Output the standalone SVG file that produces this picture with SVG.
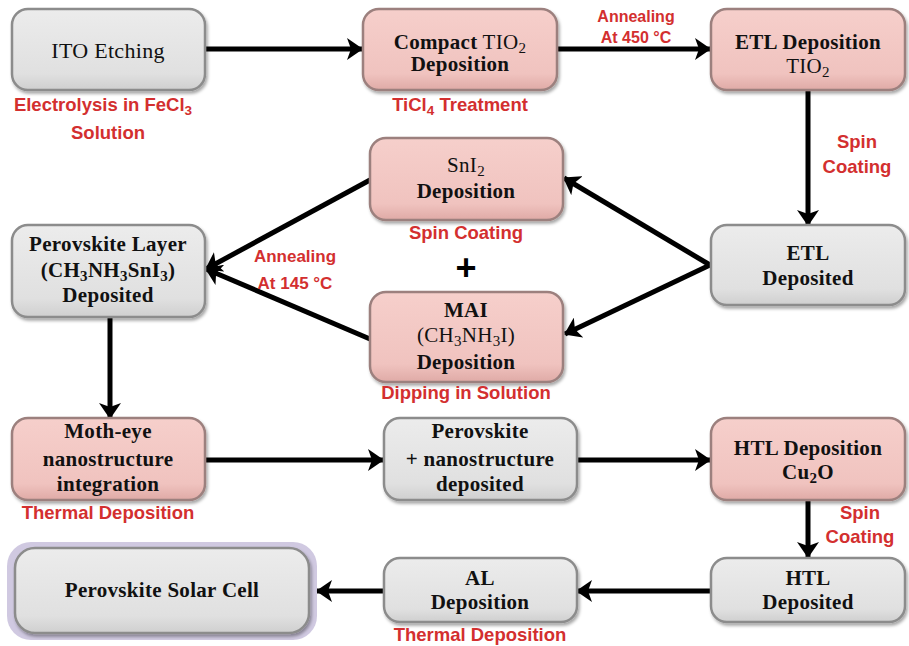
<svg xmlns="http://www.w3.org/2000/svg" width="909" height="646" viewBox="0 0 909 646">
<defs>
<linearGradient id="gGray" x1="0" y1="0" x2="0" y2="1">
<stop offset="0" stop-color="#ececec"/><stop offset="0.8" stop-color="#e0e0e0"/><stop offset="1" stop-color="#cfcfcf"/>
</linearGradient>
<linearGradient id="gPink" x1="0" y1="0" x2="0" y2="1">
<stop offset="0" stop-color="#f6cfcb"/><stop offset="0.8" stop-color="#f0c3bf"/><stop offset="1" stop-color="#dfaaa6"/>
</linearGradient>
<filter id="sh" x="-10%" y="-10%" width="125%" height="135%">
<feDropShadow dx="1.5" dy="2.5" stdDeviation="1.5" flood-color="#000" flood-opacity="0.35"/>
</filter>
<marker id="ah" markerUnits="userSpaceOnUse" markerWidth="16" markerHeight="22" refX="15" refY="11" orient="auto">
<path d="M0,0 L16,11 L0,22 L4,11 Z" fill="#000"/>
</marker>
<style>
.gray{fill:url(#gGray);stroke:#8c8c8c;stroke-width:2.5;filter:url(#sh)}
.pink{fill:url(#gPink);stroke:#9c807e;stroke-width:2.5;filter:url(#sh)}
.t{font-family:"Liberation Serif","Times New Roman",serif;font-size:21px;letter-spacing:0.3px;fill:#111;text-anchor:middle}
.b{font-weight:bold}
.s{font-size:15px}
.r{font-family:"Liberation Sans",Arial,sans-serif;font-size:18.5px;font-weight:bold;fill:#d32f2f;text-anchor:middle}
.c{fill:none;stroke:#000;stroke-width:5;marker-end:url(#ah)}
</style>
</defs>

<g id="connectors">
<line class="c" x1="205" y1="49" x2="362" y2="49"/>
<line class="c" x1="558" y1="49" x2="710" y2="49"/>
<line class="c" x1="808" y1="90" x2="808" y2="225"/>
<line class="c" x1="710" y1="265" x2="564" y2="178"/>
<line class="c" x1="710" y1="265" x2="565" y2="334"/>
<line class="c" x1="370" y1="180" x2="206" y2="269"/>
<line class="c" x1="370" y1="339" x2="206" y2="269"/>
<line class="c" x1="110" y1="317" x2="110" y2="418"/>
<line class="c" x1="205" y1="460" x2="383" y2="460"/>
<line class="c" x1="577" y1="460" x2="710" y2="460"/>
<line class="c" x1="808" y1="500" x2="808" y2="557"/>
<line class="c" x1="710" y1="591" x2="577" y2="591"/>
<line class="c" x1="383" y1="591" x2="317" y2="591"/>
</g>

<g id="ito">
<rect class="gray" x="12" y="9" width="193" height="81" rx="16"/>
<text class="t" x="108" y="58" style="font-size:22px">ITO Etching</text>
<text class="r" x="103" y="111">Electrolysis in FeCl<tspan font-size="13.5" dy="4">3</tspan></text>
<text class="r" x="108" y="139">Solution</text>
</g>

<g id="compact">
<rect class="pink" x="363" y="9" width="194" height="81" rx="16"/>
<text class="t" x="460" y="49"><tspan class="b">Compact</tspan> TIO<tspan class="s" dy="4">2</tspan></text>
<text class="t b" x="460" y="71">Deposition</text>
<text class="r" x="460" y="111">TiCl<tspan font-size="13.5" dy="4">4</tspan><tspan dy="-4"> Treatment</tspan></text>
</g>

<text class="r" x="636" y="22" style="font-size:16px">Annealing</text>
<text class="r" x="636" y="43" style="font-size:16px">At 450 °C</text>

<g id="etl">
<rect class="pink" x="711" y="9" width="194" height="81" rx="16"/>
<text class="t b" x="808" y="49">ETL Deposition</text>
<text class="t" x="808" y="73">TIO<tspan class="s" dy="4">2</tspan></text>
</g>

<text class="r" x="857" y="148">Spin</text>
<text class="r" x="857" y="173">Coating</text>

<g id="etl-deposited">
<rect class="gray" x="711" y="225" width="194" height="80" rx="16"/>
<text class="t b" x="808" y="260">ETL</text>
<text class="t b" x="808" y="285">Deposited</text>
</g>

<g id="sni2">
<rect class="pink" x="370" y="138" width="193" height="82" rx="16"/>
<text class="t" x="466" y="172">SnI<tspan class="s" dy="4">2</tspan></text>
<text class="t b" x="466" y="198">Deposition</text>
<text class="r" x="466" y="239">Spin  Coating</text>
</g>

<text x="466" y="280" style="font-family:'Liberation Sans',Arial,sans-serif;font-size:36px;font-weight:bold;fill:#000;text-anchor:middle">+</text>

<g id="mai">
<rect class="pink" x="370" y="292" width="193" height="90" rx="16"/>
<text class="t b" x="466" y="317">MAI</text>
<text class="t" x="466" y="342">(CH<tspan class="s" dy="4">3</tspan><tspan dy="-4">NH</tspan><tspan class="s" dy="4">3</tspan><tspan dy="-4">I)</tspan></text>
<text class="t b" x="466" y="369">Deposition</text>
<text class="r" x="466" y="399">Dipping in Solution</text>
</g>

<text class="r" x="295" y="262" style="font-size:17px">Annealing</text>
<text class="r" x="295" y="289" style="font-size:17px">At 145 °C</text>

<g id="perovskite-layer">
<rect class="gray" x="12" y="225" width="193" height="92" rx="16"/>
<text class="t b" x="108" y="251">Perovskite Layer</text>
<text class="t b" x="108" y="277">(CH<tspan class="s" dy="4">3</tspan><tspan dy="-4">NH</tspan><tspan class="s" dy="4">3</tspan><tspan dy="-4">SnI</tspan><tspan class="s" dy="4">3</tspan><tspan dy="-4">)</tspan></text>
<text class="t b" x="108" y="302">Deposited</text>
</g>

<g id="moth-eye">
<rect class="pink" x="12" y="418" width="193" height="82" rx="16"/>
<text class="t b" x="108" y="438">Moth-eye</text>
<text class="t b" x="108" y="466">nanostructure</text>
<text class="t b" x="108" y="491">integration</text>
<text class="r" x="108" y="519">Thermal Deposition</text>
</g>

<g id="perovskite-nano">
<rect class="gray" x="384" y="418" width="193" height="82" rx="16"/>
<text class="t b" x="480" y="438">Perovskite</text>
<text class="t b" x="480" y="466">+ nanostructure</text>
<text class="t b" x="480" y="491">deposited</text>
</g>

<g id="htl">
<rect class="pink" x="711" y="418" width="194" height="82" rx="16"/>
<text class="t b" x="808" y="455">HTL Deposition</text>
<text class="t b" x="808" y="479">Cu<tspan class="s" dy="4">2</tspan><tspan dy="-4">O</tspan></text>
</g>

<text class="r" x="860" y="519">Spin</text>
<text class="r" x="860" y="543">Coating</text>

<g id="htl-deposited">
<rect class="gray" x="711" y="558" width="194" height="64" rx="16"/>
<text class="t b" x="808" y="585">HTL</text>
<text class="t b" x="808" y="609">Deposited</text>
</g>

<g id="al">
<rect class="gray" x="384" y="558" width="193" height="64" rx="16"/>
<text class="t b" x="480" y="585">AL</text>
<text class="t b" x="480" y="609">Deposition</text>
<text class="r" x="480" y="641">Thermal Deposition</text>
</g>

<g id="solar-cell">
<rect x="7" y="542" width="310" height="98" rx="24" fill="#cbc3de" opacity="0.9"/>
<rect class="gray" x="15" y="548" width="294" height="85" rx="20"/>
<text class="t b" x="162" y="597">Perovskite Solar Cell</text>
</g>
</svg>
